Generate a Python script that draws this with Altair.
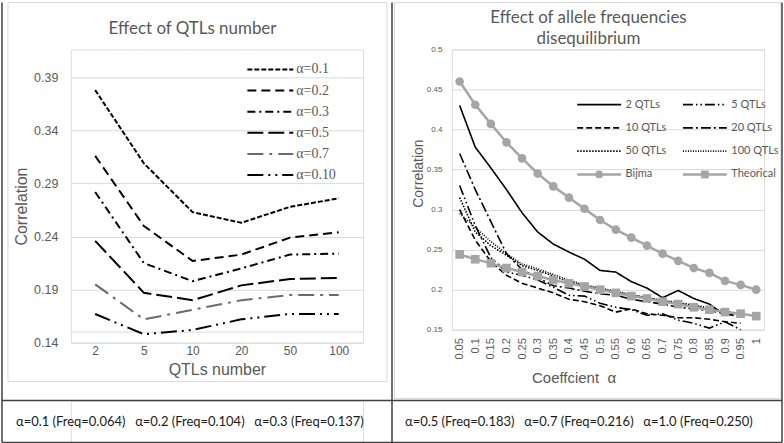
import altair as alt
import pandas as pd

# ---------- left panel: correlation vs number of QTLs ----------
qtl_numbers = ["2", "5", "10", "20", "50", "100"]
alpha_series = ["α=0.1", "α=0.2", "α=0.3", "α=0.5", "α=0.7", "α=0.10"]
corr_alpha_01 = [0.378, 0.309, 0.263, 0.253, 0.268, 0.276]
corr_alpha_02 = [0.316, 0.250, 0.217, 0.223, 0.239, 0.244]
corr_alpha_03 = [0.282, 0.215, 0.198, 0.210, 0.223, 0.224]
corr_alpha_05 = [0.236, 0.187, 0.180, 0.194, 0.200, 0.201]
corr_alpha_07 = [0.195, 0.162, 0.171, 0.180, 0.185, 0.185]
corr_alpha_10 = [0.167, 0.148, 0.152, 0.162, 0.167, 0.167]
left_ticks = [0.14, 0.19, 0.24, 0.29, 0.34, 0.39]
left_extra_grid = [0.15]
left_title = "Effect of QTLs number"

# ---------- right panel: correlation vs coefficient alpha ----------
coef_alpha = ["0.05", "0.1", "0.15", "0.2", "0.25", "0.3", "0.35", "0.4", "0.45", "0.5",
              "0.55", "0.6", "0.65", "0.7", "0.75", "0.8", "0.85", "0.9", "0.95", "1"]
qtl_series = ["2 QTLs", "5 QTLs", "10 QTLs", "20 QTLs", "50 QTLs", "100 QTLs"]
ref_series = ["Bijma", "Theorical"]
corr_2qtl = [0.430, 0.378, 0.352, 0.325, 0.296, 0.272, 0.257, 0.247, 0.238, 0.224,
             0.222, 0.210, 0.202, 0.190, 0.199, 0.189, 0.182, 0.168, 0.172]
corr_5qtl = [0.330, 0.280, 0.240, 0.222, 0.218, 0.212, 0.203, 0.193, 0.192, 0.183,
             0.178, 0.175, 0.168, 0.170, 0.162, 0.158, 0.152, 0.160, 0.150]
corr_10qtl = [0.300, 0.262, 0.235, 0.218, 0.208, 0.202, 0.196, 0.188, 0.185, 0.180,
              0.172, 0.176, 0.170, 0.168, 0.165, 0.165, 0.163, 0.160, 0.158]
corr_20qtl = [0.370, 0.325, 0.285, 0.245, 0.225, 0.215, 0.205, 0.202, 0.198, 0.195,
              0.193, 0.188, 0.185, 0.182, 0.178, 0.176, 0.174, 0.170, 0.166]
corr_50qtl = [0.315, 0.272, 0.255, 0.243, 0.230, 0.224, 0.217, 0.210, 0.205, 0.201,
              0.197, 0.193, 0.190, 0.186, 0.183, 0.180, 0.176, 0.172, 0.170]
corr_100qtl = [0.295, 0.278, 0.260, 0.245, 0.232, 0.226, 0.219, 0.212, 0.206, 0.202,
               0.198, 0.194, 0.190, 0.187, 0.184, 0.181, 0.177, 0.173, 0.170]
corr_bijma = [0.460, 0.431, 0.407, 0.384, 0.364, 0.345, 0.329, 0.315, 0.301, 0.287,
              0.275, 0.265, 0.255, 0.245, 0.236, 0.227, 0.221, 0.211, 0.206, 0.200]
corr_theorical = [0.244, 0.238, 0.233, 0.227, 0.222, 0.217, 0.212, 0.208, 0.204, 0.200,
                  0.196, 0.192, 0.189, 0.185, 0.182, 0.178, 0.175, 0.172, 0.170, 0.167]
right_ticks = [0.15, 0.2, 0.25, 0.3, 0.35, 0.4, 0.45, 0.5]
right_title = ["Effect of allele frequencies", "disequilibrium"]

# ---------- caption row ----------
caption_cells = ["left", "right"]
caption_left = ["α=0.1 (Freq=0.064)", "α=0.2 (Freq=0.104)", "α=0.3 (Freq=0.137)"]
caption_right = ["α=0.5 (Freq=0.183)", "α=0.7 (Freq=0.216)", "α=1.0 (Freq=0.250)"]
table_edges = ["left", "middle", "right"]
table_rows = ["top", "bottom"]

FONT = "Lato"
TXT = "#595959"
GRID = "#d9d9d9"
FRAME = "#d9d9d9"
BORDER = "#404040"
REF_GRAY = "#a5a5a5"


def long_frame(xs, names, arrays, xname, sname):
    rows = []
    for name, vals in zip(names, arrays):
        for i, v in enumerate(vals):
            rows.append({xname: xs[i], "idx": i, sname: name, "corr": v})
    return pd.DataFrame(rows)


one_row = pd.DataFrame({"k": [0]})

# ================= left panel =================
LW, LH = 293, 294
l_top = 0.14 + LH * 0.25 / 266.0

left_df = long_frame(qtl_numbers, alpha_series,
                     [corr_alpha_01, corr_alpha_02, corr_alpha_03,
                      corr_alpha_05, corr_alpha_07, corr_alpha_10], "qtl", "aseries")

l_dash = alt.Scale(domain=alpha_series,
                   range=[[5, 2], [9, 5], [8, 4, 2, 4], [16, 5], [16, 6, 3, 6], [16, 5, 2, 5, 2, 5]])
l_color = alt.Scale(domain=alpha_series,
                    range=["#000000", "#000000", "#000000", "#000000", "#6b6b6b", "#000000"])
l_y_scale = alt.Scale(domain=[0.14, l_top], nice=False, zero=False)

l_lines = alt.Chart(left_df).mark_line(strokeWidth=2).encode(
    x=alt.X("qtl:N", sort=qtl_numbers, scale=alt.Scale(type="point", padding=0.5),
            axis=alt.Axis(labelAngle=0, domain=False, ticks=False, grid=False,
                          labelFontSize=12, labelColor=TXT, labelPadding=3,
                          title="QTLs number", titleFontSize=16, titleColor=TXT,
                          titleFontWeight="normal", titleY=27, titleBaseline="middle")),
    y=alt.Y("corr:Q", scale=l_y_scale,
            axis=alt.Axis(values=left_ticks, format=".2f", domain=False, ticks=False,
                          grid=True, gridColor=GRID, labelFontSize=12.5, labelColor=TXT,
                          labelPadding=13, title="Correlation", titleFontSize=16,
                          titleColor=TXT, titleFontWeight="normal", titleAngle=270,
                          titleX=-49, titleY=157, titleAlign="center",
                          titleBaseline="middle")),
    color=alt.Color("aseries:N", scale=l_color, legend=None),
    strokeDash=alt.StrokeDash("aseries:N", scale=l_dash, legend=None),
    order="idx:Q",
)
l_rule = alt.Chart(pd.DataFrame({"corr": left_extra_grid})).mark_rule(
    color=GRID, strokeWidth=1).encode(y=alt.Y("corr:Q", scale=l_y_scale))

l_leg_df = pd.DataFrame({"aseries": alpha_series})
l_leg_y = alt.Y("aseries:N", sort=alpha_series,
                scale=alt.Scale(type="point", domain=alpha_series, range=[20, 126], padding=0),
                axis=None)
l_leg_sym = alt.Chart(l_leg_df).mark_rule(strokeWidth=2).encode(
    y=l_leg_y, x=alt.value(177), x2=alt.value(223),
    color=alt.Color("aseries:N", scale=l_color, legend=None),
    strokeDash=alt.StrokeDash("aseries:N", scale=l_dash, legend=None),
)
l_leg_txt = alt.Chart(l_leg_df).mark_text(
    align="left", baseline="middle", font="Liberation Serif", fontSize=14, color=TXT
).encode(y=l_leg_y, x=alt.value(226), text="aseries:N")

l_frame = alt.Chart(one_row).mark_rect(fillOpacity=0, stroke=FRAME, strokeWidth=1).encode(
    x=alt.value(-63), x2=alt.value(317), y=alt.value(-47), y2=alt.value(333))
l_title = alt.Chart(one_row).mark_text(
    align="center", baseline="alphabetic", font=FONT, fontSize=17, color=TXT
).encode(x=alt.value(122), y=alt.value(-15), text=alt.value(left_title))

left = alt.layer(
    l_frame, l_title,
    alt.layer(l_rule, l_lines),
    alt.layer(l_leg_sym, l_leg_txt),
).resolve_scale(y="independent").properties(width=LW, height=LH)

# ================= right panel =================
RW, RH = 313, 281
legend_order = ["2 QTLs", "5 QTLs", "10 QTLs", "20 QTLs", "50 QTLs", "100 QTLs", "Bijma", "Theorical"]
r_color = alt.Scale(domain=legend_order, range=["#000000"] * 6 + [REF_GRAY, REF_GRAY])
r_dash = alt.Scale(domain=legend_order,
                   range=[[1, 0], [10, 3, 1.5, 3, 1.5, 3], [6, 3], [10, 3, 2, 3],
                          [1.5, 1.5], [1, 1.5], [1, 0], [1, 0]])
r_shape = alt.Scale(domain=ref_series, range=["circle", "square"])
r_y_scale = alt.Scale(domain=[0.15, 0.5], nice=False, zero=False)

qtl_df = long_frame(coef_alpha, qtl_series,
                    [corr_2qtl, corr_5qtl, corr_10qtl, corr_20qtl, corr_50qtl, corr_100qtl],
                    "alpha", "qseries")
ref_df = long_frame(coef_alpha, ref_series, [corr_bijma, corr_theorical], "alpha", "qseries")

r_x = alt.X("alpha:N", sort=coef_alpha, scale=alt.Scale(type="point", padding=0.5),
            axis=alt.Axis(labelAngle=270, domain=False, ticks=False, grid=False,
                          labelFontSize=11, labelColor=TXT, labelPadding=8,
                          title="Coeffcient\u00a0 α", titleFontSize=15, titleColor=TXT,
                          titleFontWeight="normal", titleX=122, titleY=48,
                          titleAlign="center", titleBaseline="middle"))
r_y = alt.Y("corr:Q", scale=r_y_scale,
            axis=alt.Axis(values=right_ticks, format=".2~f", domain=False, ticks=False,
                          grid=True, gridColor=GRID, labelFontSize=8, labelColor=TXT,
                          labelPadding=10, title="Correlation", titleFontSize=14,
                          titleColor=TXT, titleFontWeight="normal", titleAngle=270,
                          titleX=-33, titleY=124, titleAlign="center",
                          titleBaseline="middle"))
r_col = alt.Color("qseries:N", scale=r_color, legend=None)
r_dsh = alt.StrokeDash("qseries:N", scale=r_dash, legend=None)
r_shp = alt.Shape("qseries:N", scale=r_shape, legend=None)

r_qtl_lines = alt.Chart(qtl_df).mark_line(strokeWidth=1.6).encode(
    x=r_x, y=r_y, color=r_col, strokeDash=r_dsh, order="idx:Q")
r_ref_lines = alt.Chart(ref_df).mark_line(strokeWidth=2.5).encode(
    x=r_x, y=r_y, color=r_col, strokeDash=r_dsh, order="idx:Q")
r_ref_points = alt.Chart(ref_df).mark_point(filled=True, opacity=1, size=75).encode(
    x=r_x, y=r_y, color=r_col, shape=r_shp)

r_leg_df = pd.DataFrame({
    "qseries": legend_order,
    "col": [i % 2 for i in range(len(legend_order))],
    "row": [i // 2 for i in range(len(legend_order))],
    "kind": ["qtl"] * 6 + ["ref"] * 2,
})
r_leg_x = alt.X("col:O", scale=alt.Scale(type="point", domain=[0, 1], range=[125.7, 231.7], padding=0),
                axis=None)
r_leg_y = alt.Y("row:O", scale=alt.Scale(type="point", domain=[0, 1, 2, 3], range=[55.3, 125.3], padding=0),
                axis=None)
r_leg_base = alt.Chart(r_leg_df)
r_leg_qtl = r_leg_base.transform_filter(alt.datum.kind == "qtl").mark_rule(
    strokeWidth=1.6, x2Offset=44).encode(
    x=r_leg_x, x2=alt.X2("col"), y=r_leg_y, color=r_col, strokeDash=r_dsh)
r_leg_ref = r_leg_base.transform_filter(alt.datum.kind == "ref").mark_rule(
    strokeWidth=2.5, x2Offset=44).encode(
    x=r_leg_x, x2=alt.X2("col"), y=r_leg_y, color=r_col)
r_leg_pts = r_leg_base.transform_filter(alt.datum.kind == "ref").mark_point(
    filled=True, opacity=1, size=60, xOffset=22).encode(
    x=r_leg_x, y=r_leg_y, color=r_col, shape=r_shp)
r_leg_txt = r_leg_base.mark_text(
    align="left", baseline="middle", dx=48.5, font=FONT, fontSize=11, color=TXT
).encode(x=r_leg_x, y=r_leg_y, text="qseries:N")

r_frame = alt.Chart(one_row).mark_rect(fillOpacity=0, stroke=FRAME, strokeWidth=1).encode(
    x=alt.value(-57.5), x2=alt.value(329.7), y=alt.value(-47), y2=alt.value(350))
r_title = alt.Chart(one_row).mark_text(
    align="center", baseline="alphabetic", font=FONT, fontSize=17, color=TXT, lineHeight=22
).encode(x=alt.value(137), y=alt.value(-27), text=alt.value(right_title))

right = alt.layer(
    r_frame, r_title,
    alt.layer(r_qtl_lines, r_ref_lines, r_ref_points),
    alt.layer(r_leg_qtl, r_leg_ref, r_leg_pts, r_leg_txt),
).resolve_scale(x="independent", y="independent").properties(width=RW, height=RH)

# ================= caption table row =================
BW, BH = LW, 42
cap_rows = []
for cell, labels in zip(caption_cells, [caption_left, caption_right]):
    for slot, text in enumerate(labels):
        cap_rows.append({"cell": cell, "slot": slot, "caption": text})
cap_df = pd.DataFrame(cap_rows)

b_vrules = alt.Chart(pd.DataFrame({"edge": table_edges})).mark_rule(
    color=BORDER, strokeWidth=1.5).encode(
    x=alt.X("edge:N", sort=table_edges,
            scale=alt.Scale(type="point", domain=table_edges, range=[-69, 713], padding=0),
            axis=None),
    y=alt.value(-399), y2=alt.value(42))
b_hrules = alt.Chart(pd.DataFrame({"row": table_rows})).mark_rule(
    color=BORDER, strokeWidth=1.5).encode(
    y=alt.Y("row:N", sort=table_rows,
            scale=alt.Scale(type="point", domain=table_rows, range=[0, 42], padding=0),
            axis=None),
    x=alt.value(-69), x2=alt.value(713))
b_txt = alt.Chart(cap_df).mark_text(
    align="left", baseline="middle", font=FONT, fontSize=13, color="#1a1a1a").encode(
    x=alt.X("cell:N", sort=caption_cells,
            scale=alt.Scale(type="point", domain=caption_cells, range=[-55, 335], padding=0),
            axis=None),
    xOffset=alt.XOffset("slot:O", scale=alt.Scale(type="point", domain=[0, 1, 2],
                                                  range=[0, 239], padding=0)),
    y=alt.value(22), text="caption:N")

bottom = alt.layer(b_vrules, b_hrules, b_txt).resolve_scale(
    x="independent", y="independent").properties(width=BW, height=BH)

chart = alt.concat(
    left, right, bottom, columns=2, spacing={"row": 58, "column": 89}, bounds="flush"
).resolve_scale(
    color="independent", strokeDash="independent", shape="independent"
).properties(padding=0).configure_view(stroke=None).configure_axis(
    labelFont=FONT, titleFont=FONT
).configure(background="white")

chart.save("out.html", embed_options={"renderer": "svg", "actions": False})
